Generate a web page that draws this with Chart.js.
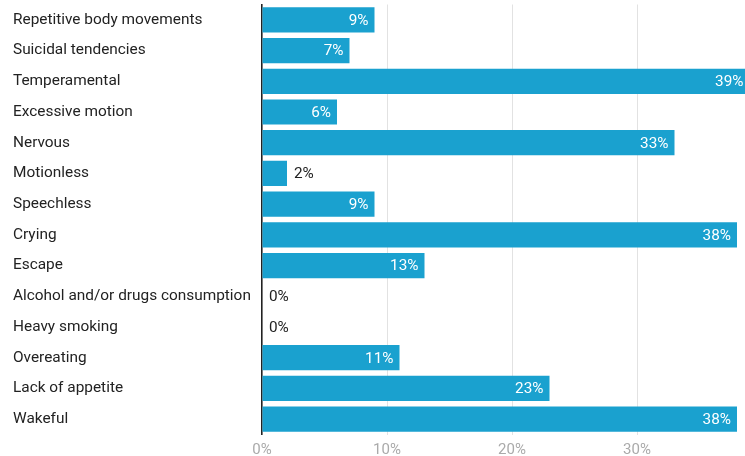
<!DOCTYPE html>
<html>
<head>
<meta charset="utf-8">
<script src="https://cdn.jsdelivr.net/npm/chart.js@4/dist/chart.umd.min.js"></script>
<style>
  html, body { margin: 0; padding: 0; background: #fff; }
  #wrap { width: 745px; height: 456px; position: relative; }
</style>
</head>
<body>
<div id="wrap"><canvas id="chart"></canvas></div>
<script>
const categories = [
  'Repetitive body movements', 'Suicidal tendencies', 'Temperamental', 'Excessive motion',
  'Nervous', 'Motionless', 'Speechless', 'Crying', 'Escape',
  'Alcohol and/or drugs consumption', 'Heavy smoking', 'Overeating', 'Lack of appetite', 'Wakeful'
];
const values = [9, 7, 39, 6, 33, 2, 9, 38, 13, 0, 0, 11, 23, 38];
const xTicks = [0, 10, 20, 30];

const barColor = '#1aa1cf';

// value labels: inside the bar (white) when it fits, else just after it
const valueLabels = {
  id: 'valueLabels',
  afterDatasetsDraw(chart) {
    const ctx = chart.ctx;
    const meta = chart.getDatasetMeta(0);
    ctx.save();
    ctx.font = '15.3px Roboto';
    ctx.textBaseline = 'middle';
    meta.data.forEach((bar, i) => {
      const txt = values[i] + '%';
      const w = ctx.measureText(txt).width;
      const barW = bar.x - bar.base;
      if (barW > w + 12) {
        ctx.fillStyle = '#fff';
        ctx.textAlign = 'right';
        ctx.fillText(txt, bar.x - 6, bar.y + 1);
      } else {
        ctx.fillStyle = '#222';
        ctx.textAlign = 'left';
        ctx.fillText(txt, bar.x + 7, bar.y + 1);
      }
    });
    ctx.restore();
  }
};

new Chart(document.getElementById('chart'), {
  type: 'bar',
  data: {
    labels: categories,
    datasets: [{
      data: values,
      backgroundColor: barColor,
      categoryPercentage: 1,
      barPercentage: 0.82,
      borderWidth: 0
    }]
  },
  options: {
    indexAxis: 'y',
    responsive: true,
    maintainAspectRatio: false,
    animation: false,
    layout: { padding: { left: 13, top: 4.5, right: 0, bottom: 0 } },
    plugins: {
      legend: { display: false },
      tooltip: { enabled: false }
    },
    scales: {
      x: {
        min: 0,
        max: 38.64,
        afterBuildTicks: axis => { axis.ticks = xTicks.map(v => ({ value: v })); },
        afterFit: axis => { axis.height = 21.5; },
        grid: {
          color: ctx => ctx.tick && ctx.tick.value === 0 ? 'rgba(0,0,0,0)' : '#e2e2e2',
          drawTicks: false
        },
        border: { display: false },
        ticks: {
          color: '#aaa',
          font: { family: 'Roboto', size: 15 },
          padding: 7,
          callback: v => v + '%'
        }
      },
      y: {
        afterFit: axis => {
          axis.width = 249;
          axis.paddingTop = 0;
          axis.paddingBottom = 0;
        },
        grid: { display: false, drawTicks: false },
        border: { display: true, color: '#222', width: 1.6 },
        ticks: {
          crossAlign: 'far',
          color: '#222',
          font: { family: 'Roboto', size: 15.4 },
          padding: 0
        }
      }
    }
  },
  plugins: [valueLabels]
});
</script>
</body>
</html>
